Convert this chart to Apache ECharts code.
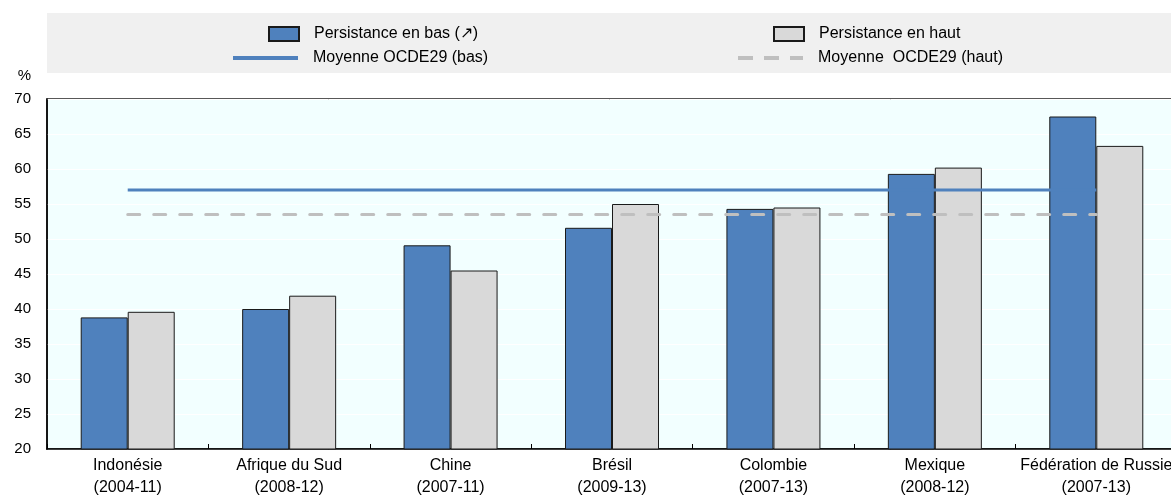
<!DOCTYPE html>
<html>
<head>
<meta charset="utf-8">
<script src="https://cdn.jsdelivr.net/npm/echarts@6/dist/echarts.min.js"></script>
<style>
  html, body { margin: 0; padding: 0; background: #fff; }
  #chart { width: 1171px; height: 496px; }
</style>
</head>
<body>
<div id="chart"></div>
<script>
// Persistance des revenus en bas et en haut de la distribution, par pays (période)
const categories = [
  'Indonésie\n(2004-11)',
  'Afrique du Sud\n(2008-12)',
  'Chine\n(2007-11)',
  'Brésil\n(2009-13)',
  'Colombie\n(2007-13)',
  'Mexique\n(2008-12)',
  'Fédération de Russie\n(2007-13)'
];
const persistBas = [38.8, 40.0, 49.1, 51.6, 54.3, 59.3, 67.5];
const persistHaut = [39.6, 41.9, 45.5, 55.0, 54.5, 60.2, 63.3];
const moyenneBas = 57.0;
const moyenneHaut = 53.5;
const yTicks = { min: 20, max: 70, step: 5 };

const seriesNames = [
  'Persistance en bas (↗)',
  'Persistance en haut',
  'Moyenne OCDE29 (bas)',
  'Moyenne  OCDE29 (haut)'
];

const FONT = "'Liberation Sans', Arial, sans-serif";
const BLUE = '#4F81BD';
const GREY = '#D9D9D9';
const DASH_GREY = '#BFBFBF';

const chart = echarts.init(document.getElementById('chart'), null, { renderer: 'canvas' });

const legendText = { fontFamily: FONT, fontSize: 16, color: '#000', padding: [0, 0, 0, 10] };
const dashIcon = 'path://M0,0h15v4h-15z M26,0h15v4h-15z M52,0h13v4h-13z';

const option = {
  animation: false,
  backgroundColor: '#fff',
  graphic: [{
    type: 'rect',
    shape: { x: 47, y: 13, width: 1124, height: 60 },
    style: { fill: '#F0F0F0' },
    silent: true,
    z: -10
  }],
  legend: [
    { data: [{ name: seriesNames[0], icon: 'rect' }], left: 268, top: 26, itemWidth: 30, itemHeight: 14, textStyle: legendText, padding: 0 },
    { data: [{ name: seriesNames[1], icon: 'rect' }], left: 773, top: 26, itemWidth: 30, itemHeight: 14, textStyle: legendText, padding: 0 },
    { data: [{ name: seriesNames[2], icon: 'rect' }], left: 233, top: 50, itemWidth: 65, itemHeight: 4, textStyle: legendText, padding: 0 },
    { data: [{ name: seriesNames[3], icon: dashIcon }], left: 738, top: 50, itemWidth: 65, itemHeight: 4, textStyle: legendText, padding: 0 }
  ],
  grid: {
    left: 47, width: 1130, top: 99, bottom: 47,
    containLabel: false,
    outerBoundsMode: 'none',
    show: true,
    backgroundColor: '#F2FFFF',
    borderColor: '#222',
    borderWidth: 1.5
  },
  xAxis: {
    type: 'category',
    data: categories,
    boundaryGap: true,
    axisLine: { lineStyle: { color: '#000', width: 1.5 } },
    axisTick: { show: true, inside: true, length: 5, lineStyle: { color: '#000' } },
    axisLabel: {
      interval: 0,
      hideOverlap: false,
      fontFamily: FONT,
      fontSize: 16,
      color: '#000',
      lineHeight: 22,
      margin: 6
    }
  },
  yAxis: {
    type: 'value',
    min: yTicks.min,
    max: yTicks.max,
    interval: yTicks.step,
    name: '%',
    nameLocation: 'end',
    nameGap: 16,
    nameTextStyle: { fontFamily: FONT, fontSize: 15, color: '#000', align: 'right', padding: [0, 16, 0, 0] },
    axisLine: { show: true, lineStyle: { color: '#000', width: 1.5 } },
    axisTick: { show: false },
    axisLabel: { fontFamily: FONT, fontSize: 15, color: '#000', margin: 16 },
    splitLine: { show: true, lineStyle: { color: '#FFFFFF', width: 1 } }
  },
  series: [
    {
      name: seriesNames[0],
      type: 'bar',
      data: persistBas,
      barWidth: 47,
      barGap: '0%',
      itemStyle: { color: BLUE, borderColor: '#1a1a1a', borderWidth: 1 },
      z: 2
    },
    {
      name: seriesNames[1],
      type: 'bar',
      data: persistHaut,
      barWidth: 47,
      barGap: '0%',
      itemStyle: { color: GREY, borderColor: '#1a1a1a', borderWidth: 1 },
      z: 2
    },
    {
      name: seriesNames[2],
      type: 'line',
      data: categories.map(() => moyenneBas),
      symbol: 'none',
      lineStyle: { color: BLUE, width: 3 },
      itemStyle: { color: BLUE },
      z: 3
    },
    {
      name: seriesNames[3],
      type: 'line',
      data: categories.map(() => moyenneHaut),
      symbol: 'none',
      lineStyle: { color: DASH_GREY, width: 3, type: [12, 14], cap: 'round' },
      itemStyle: { color: DASH_GREY },
      z: 3
    }
  ]
};

chart.setOption(option);
</script>
</body>
</html>
